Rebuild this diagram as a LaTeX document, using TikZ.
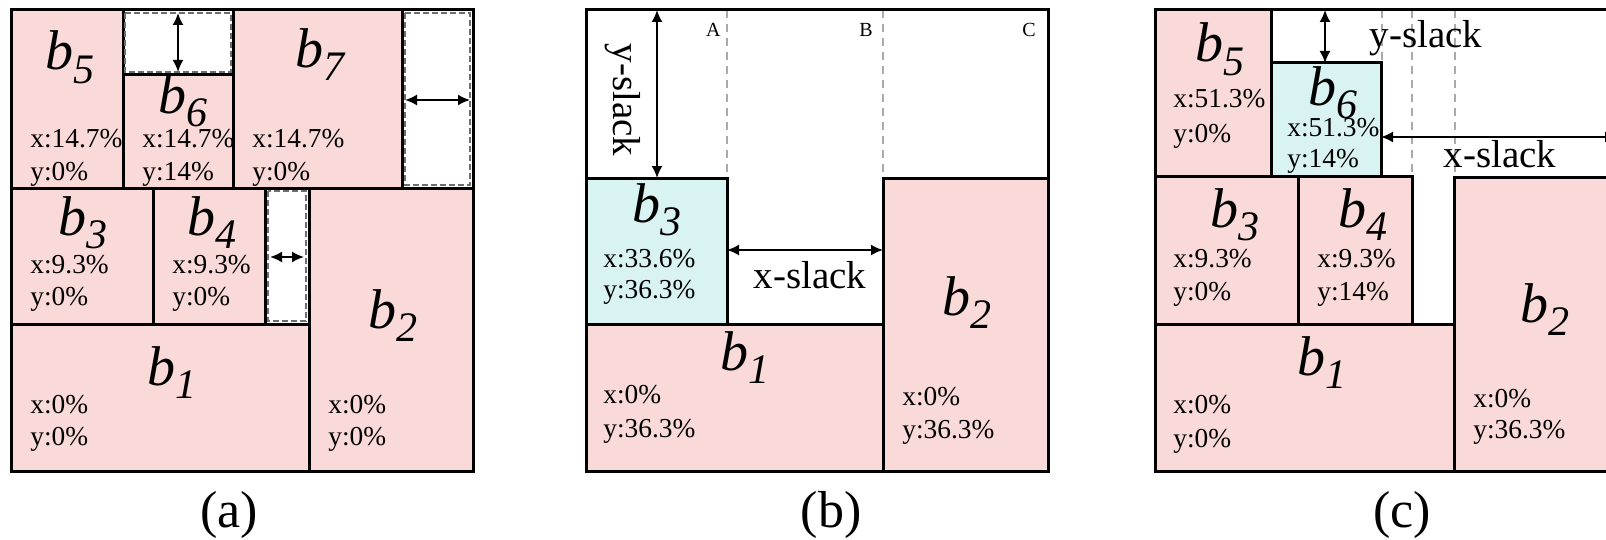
\documentclass[tikz,border=0pt]{standalone}
\usepackage{fontspec}
\setmainfont{Liberation Serif}
\usetikzlibrary{arrows.meta}
\definecolor{pinkc}{RGB}{249,218,216}
\definecolor{cyanc}{RGB}{217,242,242}
\definecolor{dashc}{RGB}{110,110,110}
\definecolor{guidec}{RGB}{170,170,170}
\newcommand\bfs{\fontsize{28}{28}\selectfont}
\newcommand\sfs{\fontsize{21}{21}\selectfont}
\newcommand\tfs{\fontsize{13.7}{16}\selectfont}
\newcommand\lfs{\fontsize{19.5}{20}\selectfont}
\newcommand\afs{\fontsize{10}{10}\selectfont}
\newcommand\cfs{\fontsize{26}{26}\selectfont}
\newcommand\info[6]{\node[lbl] (#1x) at (#2,#3) {#5}; \node[lbl] (#1y) at (#2,#4) {#6};}
\newcommand\blab[4]{\node[bl] (#1) at (#2,#3) {b\raisebox{-6.5pt}{\sfs #4}};}
\begin{document}
\begin{tikzpicture}[x=0.5pt,y=-0.5pt,
  pbox/.style={draw=black,line width=1.5pt,fill=pinkc},
  cbox/.style={draw=black,line width=1.5pt,fill=cyanc},
  frame/.style={draw=black,line width=1.5pt},
  slackbox/.style={draw=dashc,line width=1.3pt,dash pattern=on 3pt off 1.5pt,fill=white},
  guide/.style={draw=guidec,line width=0.6pt,dash pattern=on 4pt off 3pt},
  dim/.style={line width=0.9pt,{Latex[length=6pt,width=5.5pt]}-{Latex[length=6pt,width=5.5pt]}},
  lbl/.style={anchor=base west,inner sep=0pt,font=\tfs},
  bl/.style={anchor=base west,inner sep=0pt,font=\bfs\itshape},
  slk/.style={anchor=base,inner sep=0pt,font=\lfs},
  captxt/.style={anchor=base,inner sep=0pt,font=\cfs},
  coltxt/.style={anchor=base east,inner sep=0pt,font=\afs}]
\useasboundingbox (0,0) rectangle (1606,540);
\clip (0,0) rectangle (1606,540);
\fill[white] (0,0) rectangle (1606,540);

% ---------------- (a)
\path[pbox] (11,10) rectangle (123,188);
\path[slackbox] (125,13) rectangle (231,72);
\path[pbox] (123,75) rectangle (233,188);
\path[pbox] (233,10) rectangle (402,188);
\path[slackbox] (405,13) rectangle (470,185);
\path[pbox] (11,188) rectangle (153,324);
\path[pbox] (153,188) rectangle (265,324);
\path[slackbox] (268,191) rectangle (306,321);
\path[pbox] (309,188) rectangle (473,471);
\path[pbox] (11,324) rectangle (309,471);
\path[frame] (11,10) rectangle (473,471);
\coordinate (a1t) at (178,13); \coordinate (a1b) at (178,72);
\coordinate (a2l) at (405,100); \coordinate (a2r) at (470,100);
\coordinate (a3l) at (270,257); \coordinate (a3r) at (304,257);
\draw[dim] (a1t) -- (a1b);
\draw[dim] (a2l) -- (a2r);
\draw[dim] (a3l) -- (a3r);
\blab{aB5}{45}{70}{5}
\blab{aB6}{158}{113}{6}
\blab{aB7}{295}{68}{7}
\blab{aB3}{58}{235}{3}
\blab{aB4}{187}{235}{4}
\blab{aB2}{368}{328}{2}
\blab{aB1}{147}{385}{1}
\info{aI5}{30}{148}{180}{x:14.7\%}{y:0\%}
\info{aI6}{142}{148}{180}{x:14.7\%}{y:14\%}
\info{aI7}{252}{148}{180}{x:14.7\%}{y:0\%}
\info{aI3}{30}{273}{305}{x:9.3\%}{y:0\%}
\info{aI4}{172}{273}{305}{x:9.3\%}{y:0\%}
\info{aI1}{30}{413}{445}{x:0\%}{y:0\%}
\info{aI2}{328}{413}{445}{x:0\%}{y:0\%}

% ---------------- (b)
\path[frame,fill=white] (586,10) rectangle (1048,471);
\draw[guide] (727,10) -- (727,178);
\draw[guide] (883,10) -- (883,178);
\path[cbox] (586,178) rectangle (727,324);
\path[pbox] (586,324) rectangle (883,471);
\path[pbox] (883,178) rectangle (1048,471);
\path[frame] (586,10) rectangle (1048,471);
\node[coltxt] (colA) at (721,37) {A};
\node[coltxt] (colB) at (873,37) {B};
\node[coltxt] (colC) at (1036,37) {C};
\coordinate (bYt) at (657,10); \coordinate (bYb) at (657,178);
\coordinate (bXl) at (727,250); \coordinate (bXr) at (883,250);
\draw[dim] (bYt) -- (bYb);
\draw[dim] (bXl) -- (bXr);
\node[inner sep=0pt,font=\lfs,rotate=-90] (bYs) at (623,100) {y-slack};
\node[slk] (bXs) at (810,288) {x-slack};
\blab{bB3}{632}{222}{3}
\blab{bB1}{720}{370}{1}
\blab{bB2}{942}{315}{2}
\info{bI3}{603}{267}{298}{x:33.6\%}{y:36.3\%}
\info{bI1}{603}{403}{437}{x:0\%}{y:36.3\%}
\info{bI2}{902}{405}{438}{x:0\%}{y:36.3\%}

% ---------------- (c)
\path[frame,fill=white] (1155,10) rectangle (1617,471);
\draw[guide] (1382,10) -- (1382,63);
\draw[guide] (1412,10) -- (1412,176);
\draw[guide] (1455,10) -- (1455,178);
\path[pbox] (1155,10) rectangle (1271,176);
\path[cbox] (1271,63) rectangle (1381,176);
\path[pbox] (1155,176) rectangle (1298,324);
\path[pbox] (1298,176) rectangle (1412,324);
\path[pbox] (1155,324) rectangle (1454,471);
\path[pbox] (1454,177) rectangle (1617,471);
\path[frame] (1155,10) rectangle (1617,471);
\coordinate (cYt) at (1325,10); \coordinate (cYb) at (1325,63);
\coordinate (cXl) at (1381,137); \coordinate (cXr) at (1617,137);
\draw[dim] (cYt) -- (cYb);
\draw[dim] (cXl) -- (cXr);
\node[slk] (cYs) at (1426,48) {y-slack};
\node[slk] (cXs) at (1500,168) {x-slack};
\blab{cB5}{1195}{62}{5}
\blab{cB6}{1308}{105}{6}
\blab{cB3}{1210}{227}{3}
\blab{cB4}{1338}{227}{4}
\blab{cB1}{1297}{375}{1}
\blab{cB2}{1520}{322}{2}
\info{cI5}{1173}{108}{142}{x:51.3\%}{y:0\%}
\info{cI6}{1287}{137}{168}{x:51.3\%}{y:14\%}
\info{cI3}{1173}{267}{300}{x:9.3\%}{y:0\%}
\info{cI4}{1317}{267}{300}{x:9.3\%}{y:14\%}
\info{cI1}{1173}{413}{447}{x:0\%}{y:0\%}
\info{cI2}{1473}{407}{438}{x:0\%}{y:36.3\%}

% captions
\node[captxt] (capA) at (229,527) {(a)};
\node[captxt] (capB) at (831,527) {(b)};
\node[captxt] (capC) at (1402,527) {(c)};
\end{tikzpicture}
\end{document}
